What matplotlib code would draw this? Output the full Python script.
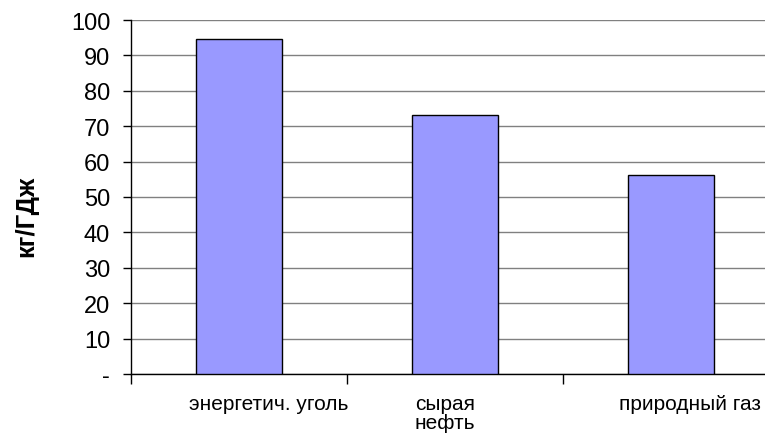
import matplotlib
matplotlib.use("Agg")
import matplotlib.pyplot as plt
import matplotlib.transforms as mtransforms
import numpy as np

categories = ["энергетич. уголь", "сырая\nнефть", "природный газ"]
values = [94.6, 73.3, 56.1]
yticks = [0, 10, 20, 30, 40, 50, 60, 70, 80, 90, 100]
ytick_labels = ["-", "10", "20", "30", "40", "50", "60", "70", "80", "90", "100"]

plt.rcParams["font.family"] = ["Liberation Sans", "DejaVu Sans"]

W, H = 765, 439
fig = plt.figure(figsize=(W / 100, H / 100), dpi=100)
left, right = 131 / W, 779 / W
top, bottom = 1 - 21 / H, 1 - 375 / H
ax = fig.add_axes([left, bottom, right - left, top - bottom])

x = np.arange(len(categories))
ax.bar(x, values, width=0.4, color="#9999FF", edgecolor="black", linewidth=1, zorder=3)

ax.set_xlim(-0.5, len(categories) - 0.5)
ax.set_ylim(0, 100)
ax.set_yticks(yticks)
ax.set_yticklabels(ytick_labels, fontsize=17)
ax.yaxis.grid(True, color="#808080", linewidth=1, zorder=0)
ax.set_axisbelow(True)

# tick marks sit on the category boundaries
ax.set_xticks(np.arange(len(categories) + 1) - 0.5)
ax.set_xticklabels([])
ax.tick_params(axis="x", which="major", length=7, width=1, direction="out")
ax.tick_params(axis="y", length=6, width=1, direction="out", pad=9)

# category captions below the axis, nudged horizontally per label
label_shift = [0.139, -0.046, 0.088]
trans = mtransforms.blended_transform_factory(ax.transData, ax.transAxes)
trans = mtransforms.offset_copy(trans, fig=fig, x=0, y=-20, units="dots")
for xi, name, dx in zip(x, categories, label_shift):
    ax.text(xi + dx, 0, name, transform=trans, ha="center", va="top",
            fontsize=15, linespacing=1.02, multialignment="left")

for s in ("top", "right"):
    ax.spines[s].set_visible(False)
for s in ("left", "bottom"):
    ax.spines[s].set_linewidth(1)
    ax.spines[s].set_color("black")

fig.text(26 / W, 1 - 216 / H, "кг/ГДж", rotation=90, fontsize=18.5, fontweight="bold",
         ha="center", va="center")

fig.savefig("out.png", dpi=100)
